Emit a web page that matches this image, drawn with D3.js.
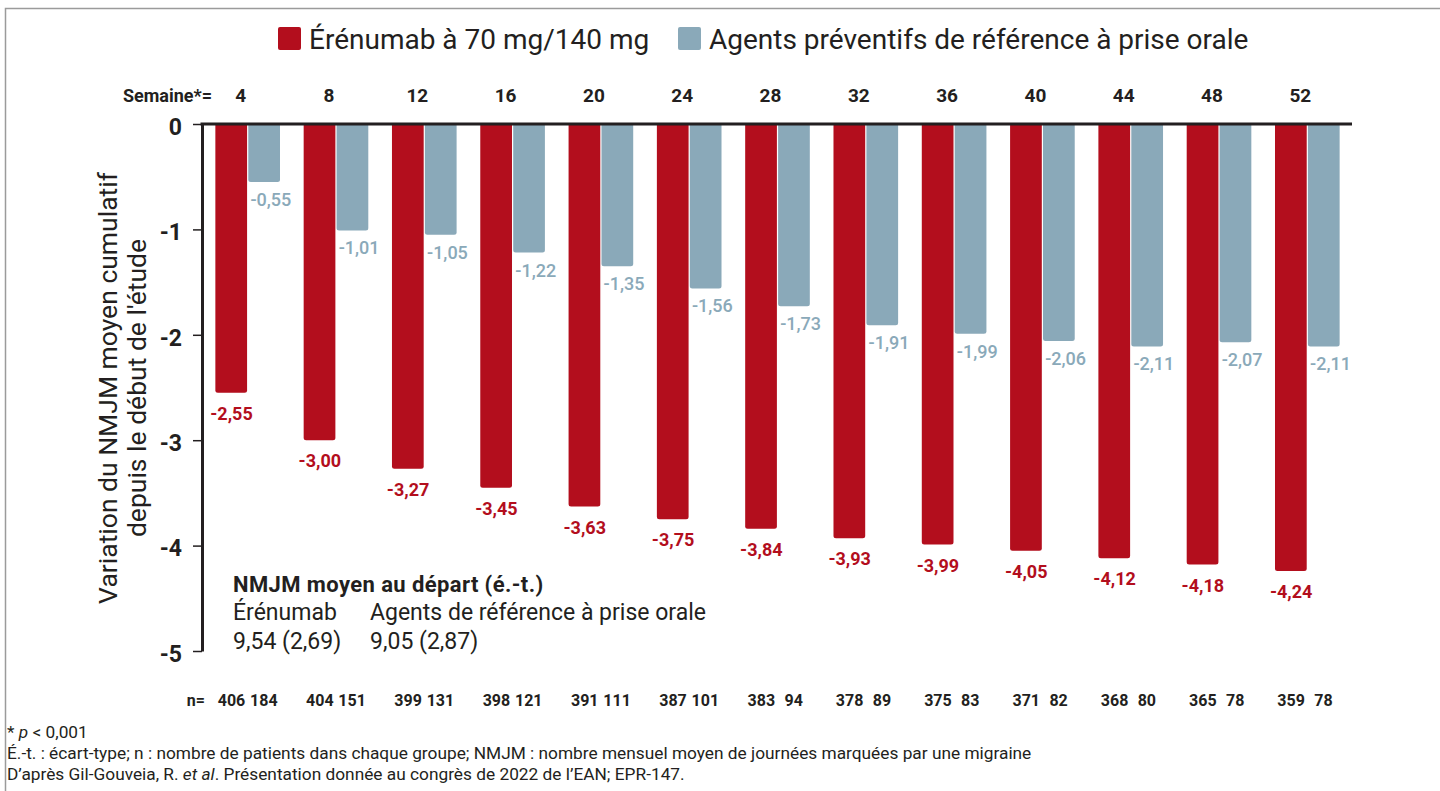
<!DOCTYPE html>
<html><head><meta charset="utf-8">
<script src="https://cdn.jsdelivr.net/npm/d3@7"></script>
<style>
body{margin:0;background:#fff;}
svg{display:block;font-family:Roboto,"Noto Sans",sans-serif;}
</style></head><body>
<svg id="chart" width="1440" height="791"></svg>
<script>
// ---- data ----
const weeks = [4,8,12,16,20,24,28,32,36,40,44,48,52];
const erenumab = [-2.55,-3.00,-3.27,-3.45,-3.63,-3.75,-3.84,-3.93,-3.99,-4.05,-4.12,-4.18,-4.24];
const oral = [-0.55,-1.01,-1.05,-1.22,-1.35,-1.56,-1.73,-1.91,-1.99,-2.06,-2.11,-2.07,-2.11];
const nErenumab = [406,404,399,398,391,387,383,378,375,371,368,365,359];
const nOral = [184,151,131,121,111,101,94,89,83,82,80,78,78];
const yTicks = [0,-1,-2,-3,-4,-5];
const seriesKeys = ["ere","oral"];
const seriesNames = ["Érénumab à 70 mg/140 mg","Agents préventifs de référence à prise orale"];
const weekPrefix = "Semaine*=";
const nPrefix = "n=";
const yTitle = ["Variation du NMJM moyen cumulatif","depuis le début de l'étude"];
const baselineTitle = "NMJM moyen au départ (é.-t.)";
const baselineGroups = ["Érénumab","Agents de référence à prise orale"];
const baselineValues = ["9,54 (2,69)","9,05 (2,87)"];

// ---- styles ----
const RED = "#b30e1d", BLUE = "#8aa9b9", INK = "#231f20";
const colors = {ere: RED, oral: BLUE};

const svg = d3.select("#chart");

// frame
svg.append("rect").attr("x",5.5).attr("y",8.5).attr("width",1460).attr("height",820)
  .attr("fill","none").attr("stroke","#9b9b9b").attr("stroke-width",1.5);

const x = d3.scaleBand().domain(weeks).range([203,1352]).paddingInner(0.268).paddingOuter(0.14);
const xs = d3.scaleBand().domain(seriesKeys).range([0,x.bandwidth()]);
const y = d3.scaleLinear().domain([0,-5]).range([124,651]);

const rows = weeks.map((w,i)=>({week:w, ere:erenumab[i], oral:oral[i], nere:nErenumab[i], noral:nOral[i]}));
const fmt = v => d3.format(".2f")(v).replace(".",",").replace("−","-");

// bar path with rounded bottom corners only
function barPath(x0, w, y0, y1, r){
  r = Math.min(r, w/2, (y1-y0)/2);
  const p = d3.path();
  p.moveTo(x0, y0);
  p.lineTo(x0+w, y0);
  p.lineTo(x0+w, y1-r);
  p.quadraticCurveTo(x0+w, y1, x0+w-r, y1);
  p.lineTo(x0+r, y1);
  p.quadraticCurveTo(x0, y1, x0, y1-r);
  p.closePath();
  return p.toString();
}

// bars
const g = svg.append("g");
const grp = g.selectAll("g.grp").data(rows).join("g").attr("class","grp")
  .attr("transform",d=>`translate(${x(d.week)},0)`);
grp.selectAll("path.bar").data(d=>seriesKeys.map(k=>({k,v:d[k]}))).join("path").attr("class","bar")
  .attr("d",d=>barPath(xs(d.k)+(d.k==="oral"?0.6:0), xs.bandwidth()-0.6, y(0), y(d.v), 2.5))
  .attr("fill",d=>colors[d.k]);

// value labels
grp.selectAll("text.val").data(d=>seriesKeys.map(k=>({k,v:d[k]}))).join("text").attr("class","val")
  .attr("x",d=>xs(d.k)+xs.bandwidth()/2+(d.k==="oral"?7:0))
  .attr("y",d=>y(d.v)+(d.k==="oral"?24:27))
  .attr("text-anchor","middle")
  .attr("font-size",18)
  .attr("font-weight",d=>d.k==="oral"?500:700)
  .attr("fill",d=>colors[d.k])
  .text(d=>fmt(d.v));

// n row
grp.selectAll("text.n").data(d=>[{k:"ere",n:d.nere},{k:"oral",n:d.noral}]).join("text").attr("class","n")
  .attr("x",d=>xs(d.k)+xs.bandwidth()/2)
  .attr("y",706)
  .attr("text-anchor","middle").attr("font-size",16).attr("font-weight",700).attr("fill",INK)
  .text(d=>d.n);
svg.append("text").attr("x",205).attr("y",706).attr("text-anchor","end")
  .attr("font-size",16).attr("font-weight",700).attr("fill",INK).text(nPrefix);

// y axis
const yAxis = d3.axisLeft(y).tickValues(yTicks).tickSize(9).tickSizeOuter(0).tickPadding(11)
  .tickFormat(d=> d===0 ? "0" : "-"+Math.abs(d));
const ya = svg.append("g").attr("transform","translate(202,0)").call(yAxis);
ya.select(".domain").attr("stroke",INK).attr("stroke-width",3);
ya.selectAll(".tick line").attr("stroke",INK).attr("stroke-width",1.5);
ya.selectAll(".tick text").attr("font-size",23).attr("font-weight",700).attr("fill",INK)
  .attr("font-family","Roboto").attr("dy","0.45em");

// top axis line
svg.append("line").attr("x1",200.5).attr("x2",1352).attr("y1",124).attr("y2",124)
  .attr("stroke",INK).attr("stroke-width",3);

// week labels
const xAxis = d3.axisTop(x).tickSize(0).tickPadding(0).tickFormat(d=>d);
const xa = svg.append("g").attr("transform","translate(-7,102)").call(xAxis);
xa.select(".domain").remove();
xa.selectAll(".tick text").attr("font-size",19).attr("font-weight",700).attr("fill",INK)
  .attr("font-family","Roboto").attr("dy",0);
svg.append("text").attr("x",212).attr("y",102).attr("text-anchor","end")
  .attr("font-size",18).attr("font-weight",700).attr("fill",INK).text(weekPrefix);

// legend
const legX = [278, 678];
seriesKeys.forEach((k,i)=>{
  svg.append("rect").attr("x",legX[i]).attr("y",27).attr("width",23).attr("height",23)
    .attr("rx",2).attr("fill",colors[k]);
  svg.append("text").attr("x",legX[i]+31).attr("y",49).attr("font-size",28)
    .attr("fill",INK).text(seriesNames[i]);
});

// y title
const yt = svg.append("text").attr("transform","translate(117,388) rotate(-90)")
  .attr("text-anchor","middle").attr("font-size",26.5).attr("fill",INK);
yt.append("tspan").attr("x",0).attr("y",0).text(yTitle[0]);
yt.append("tspan").attr("x",0).attr("y",29).text(yTitle[1]);

// baseline annotation
svg.append("text").attr("x",233).attr("y",592).attr("font-size",22).attr("font-weight",700)
  .attr("letter-spacing",0.4).attr("fill",INK).text(baselineTitle);
const colX = [233,370];
baselineGroups.forEach((t,i)=>{
  svg.append("text").attr("x",colX[i]).attr("y",620).attr("font-size",23).attr("fill",INK).text(t);
  svg.append("text").attr("x",colX[i]).attr("y",649).attr("font-size",23).attr("fill",INK).text(baselineValues[i]);
});

// footnotes
const fn = svg.append("g").attr("font-size",17.3).attr("fill",INK);
const f1 = fn.append("text").attr("x",7).attr("y",738);
f1.append("tspan").text("* ");
f1.append("tspan").attr("font-style","italic").text("p");
f1.append("tspan").text(" < 0,001");
fn.append("text").attr("x",7).attr("y",759)
  .text("É.-t. : écart-type; n : nombre de patients dans chaque groupe; NMJM : nombre mensuel moyen de journées marquées par une migraine");
const f3 = fn.append("text").attr("x",7).attr("y",780);
f3.append("tspan").text("D’après Gil-Gouveia, R. ");
f3.append("tspan").attr("font-style","italic").text("et al");
f3.append("tspan").text(". Présentation donnée au congrès de 2022 de l’EAN; EPR-147.");
</script>
</body></html>
